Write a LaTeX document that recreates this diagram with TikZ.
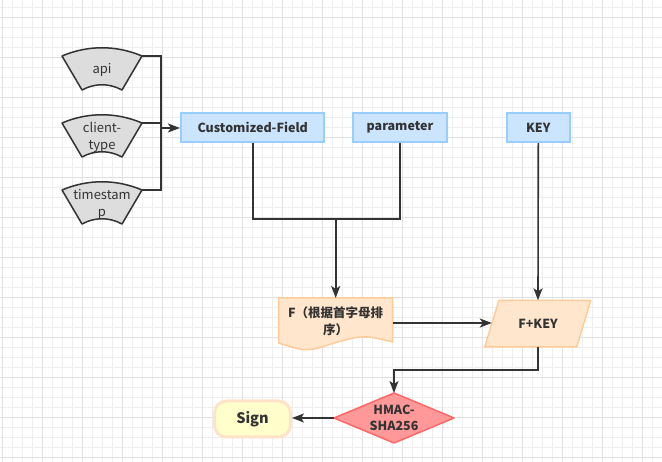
\documentclass[tikz,border=0pt]{standalone}
\usepackage{fontspec}
\setmainfont{Noto Sans CJK SC}
\usetikzlibrary{arrows.meta}
\definecolor{ink}{HTML}{333333}
\definecolor{gridminor}{HTML}{EEEEEE}
\definecolor{gridmajor}{HTML}{E0E0E0}
\definecolor{cardfill}{HTML}{DDDDDD}
\definecolor{bluefill}{HTML}{CCE5FF}
\definecolor{bluedraw}{HTML}{99CCFF}
\definecolor{orangefill}{HTML}{FFE6CC}
\definecolor{orangedraw}{HTML}{FFCC99}
\definecolor{redfill}{HTML}{FF9999}
\definecolor{reddraw}{HTML}{FF6666}
\definecolor{yellowfill}{HTML}{FFFFCC}
\definecolor{yellowdraw}{HTML}{FFE3C8}
\tikzset{
  conn/.style={draw=ink, line width=1.6pt},
  arr/.style={conn, -{Stealth[length=12pt,width=9pt,inset=3pt]}},
  cardshape/.style={fill=cardfill, draw=ink, line width=1.5pt, line join=round},
  cardtxt/.style={text=ink, font=\fontsize{13}{17}\selectfont, align=center, inner sep=0pt},
  bluebox/.style={fill=bluefill, draw=bluedraw, line width=2pt, minimum height=29.5pt, inner sep=0pt, text=ink, font=\fontsize{12.5}{16}\selectfont\bfseries},
  orangeshape/.style={fill=orangefill, draw=orangedraw, line width=1.5pt, line join=round},
  boldtxt/.style={text=ink, font=\fontsize{12.5}{17}\selectfont\bfseries, align=center, inner sep=0pt},
}
\newcommand{\cardpath}[2]{%
  \path[cardshape] (#1-40,#2-17) .. controls (#1-14,#2-28) and (#1+14,#2-28) .. (#1+40,#2-17)
    -- (#1+20,#2+17) .. controls (#1+7,#2+10) and (#1-7,#2+10) .. (#1-20,#2+17) -- cycle;}
\begin{document}
\begin{tikzpicture}[x=1pt,y=-1pt]
\useasboundingbox (0,0) rectangle (662,462);
\fill[white] (0,0) rectangle (662,462);
% grid
\foreach \i in {0,...,65} {\draw[gridminor, line width=0.8pt] ({2.7+10*\i},0) -- ({2.7+10*\i},462);}
\foreach \i in {0,...,45} {\draw[gridminor, line width=0.8pt] (0,{7.3+10*\i}) -- (662,{7.3+10*\i});}
\foreach \i in {0,...,16} {\draw[gridmajor, line width=0.8pt] ({2.7+40*\i},0) -- ({2.7+40*\i},462);}
\foreach \i in {0,...,11} {\draw[gridmajor, line width=0.8pt] (0,{17.3+40*\i}) -- (662,{17.3+40*\i});}

% cards
\cardpath{102}{73}
\cardpath{102}{140}
\cardpath{102}{207}
\node[cardtxt] (api) at (102,70) {api};
\node[cardtxt] (client) at (102,137) {client-\\type};
\node[cardtxt] (ts) at (102,204) {timestam\\p};
\coordinate (apiC) at (142,56);
\coordinate (cliC) at (142,123);
\coordinate (tsC) at (142,190);
\coordinate (busT) at (161,56);
\coordinate (busB) at (161,190);
\coordinate (busM) at (161,128);

% blue boxes
\node[bluebox, minimum width=143.5pt] (cf) at (252.7,127.5) {Customized-Field};
\node[bluebox, minimum width=94.5pt] (param) at (400,127.5) {parameter};
\node[bluebox, minimum width=63.5pt] (key) at (538.3,127.5) {KEY};

% F document
\path[orangeshape] (278.7,298) -- (392.7,298) -- (392.7,342)
  .. controls (364,335) .. (335.7,342.5)
  .. controls (307,352) .. (278.7,343) -- cycle;
\node[boldtxt] (F) at (335.7,321.5) {F（根据首字母排\\序）};
\coordinate (Fn) at (335.7,298);
\coordinate (Fe) at (392.7,323);

% F+KEY parallelogram
\path[orangeshape] (499,300.3) -- (590.7,300.3) -- (576.7,347) -- (484.7,347) -- cycle;
\node[boldtxt] (FK) at (538,324) {F+KEY};
\coordinate (FKn) at (538,300.3);
\coordinate (FKs) at (538,347);
\coordinate (FKw) at (491.8,323);

% diamond
\path[fill=redfill, draw=reddraw, line width=1.5pt, line join=round]
  (334,418) -- (394,393) -- (454,418) -- (394,443) -- cycle;
\node[text=ink, font=\fontsize{12.5}{15.7}\selectfont\bfseries, align=center, inner sep=0pt] (hm) at (394,418) {HMAC-\\SHA256};
\coordinate (hmN) at (394,393);
\coordinate (hmW) at (334,418);

% Sign
\node[fill=yellowfill, draw=yellowdraw, line width=3pt, rounded corners=12pt,
  minimum width=76pt, minimum height=36pt, inner sep=0pt, text=ink,
  font=\fontsize{14.5}{17}\selectfont\bfseries] (sign) at (252.5,419) {Sign};

% connectors
\draw[conn] (apiC) -- (busT) -- (busB) -- (tsC);
\draw[conn] (cliC) -- (cliC -| busT);
\draw[arr] (busM) -- (cf.west |- busM);
\coordinate (j1) at (252.7,219);
\coordinate (j2) at (400,219);
\coordinate (jm) at (335.7,219);
\draw[conn] (cf.south) -- (j1) -- (j2) -- (param.south);
\draw[arr] (jm) -- (Fn);
\draw[arr] (key.south) -- (FKn);
\draw[arr] (Fe) -- (FKw);
\coordinate (k1) at (538,370);
\coordinate (k2) at (394,370);
\draw[arr] (FKs) -- (k1) -- (k2) -- (hmN);
\draw[arr] (hmW) -- (sign.east |- hmW);
\end{tikzpicture}
\end{document}
